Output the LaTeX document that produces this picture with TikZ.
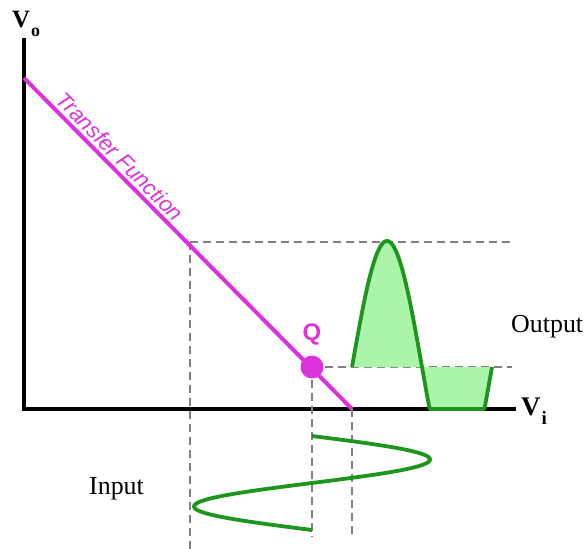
\documentclass[tikz,border=0pt]{standalone}
\usepackage{fontspec}
\setmainfont{Liberation Serif}
\setsansfont{Liberation Sans}
\usepackage{xcolor}
\usepackage{tikz}

\definecolor{tfmag}{RGB}{220,50,220}
\definecolor{wavegreen}{RGB}{30,150,30}
\definecolor{wavefill}{RGB}{170,245,170}
\definecolor{guidegray}{RGB}{128,128,128}

\begin{document}
\begin{tikzpicture}[
  x=1bp, y=-1bp,
  every node/.style={inner sep=0pt},
  axis/.style={line width=4bp, black},
  guide/.style={guidegray, line width=1.7bp, dash pattern=on 8bp off 5bp},
  tf/.style={tfmag, line width=4bp},
  wave/.style={wavegreen, line width=3.8bp, line join=round},
  lbl/.style={font=\fontsize{26}{26}\selectfont, anchor=base west},
]
  \useasboundingbox (0,0) rectangle (587,549);

  \coordinate (O)    at (24,409);
  \coordinate (Ytop) at (24,38);
  \coordinate (Xend) at (516,409);
  \coordinate (TFa)  at (24,78);
  \coordinate (TFb)  at (352,409);
  \coordinate (Hi)   at (190,242);
  \coordinate (HiR)  at (512,242);
  \coordinate (HiB)  at (190,549);
  \coordinate (Qpt)  at (312,367);
  \coordinate (QR)   at (512,367);
  \coordinate (QB)   at (312,537);
  \coordinate (TFB)  at (352,537);

  \draw[axis] (Ytop) -- (O) -- (Xend);

  \draw[guide] (Hi) -- (HiR);
  \draw[guide] (Hi) -- (HiB);
  \draw[guide] (Qpt) -- (QR);
  \draw[guide] (Qpt) -- (QB);
  \draw[guide] (TFb) -- (TFB);

  % output, clipped at the axis
  \fill[wavefill] (352,367) -- plot[domain=0:360, samples=145]
    ({352+\x/360*140}, {min(367-126*sin(\x),409)}) -- cycle;
  \draw[wave] plot[domain=0:360, samples=145]
    ({352+\x/360*140}, {min(367-126*sin(\x),409)});

  % input
  \draw[wave] plot[domain=0:360, samples=145]
    ({312+118*sin(\x)}, {436+\x/360*94});

  \draw[tf] (TFa) -- (TFb)
    node[pos=0.265, sloped, above=3bp, text=tfmag,
         font=\sffamily\itshape\fontsize{22}{22}\selectfont] (TFlbl) {Transfer Function};

  \node[circle, fill=tfmag, minimum size=23bp] (Q) at (Qpt) {};
  \node[text=tfmag, font=\sffamily\bfseries\fontsize{24}{24}\selectfont] (Qlbl) at (312,335) {Q};

  \node[lbl] (Out) at (511,332) {Output};
  \node[lbl] (In)  at (89,494)  {Input};
  \node[anchor=base west, font=\bfseries] (Vo) at (12,28)
    {\fontsize{25}{25}\selectfont V\hspace{1bp}\fontsize{18}{18}\selectfont\raisebox{-9bp}{o}};
  \node[anchor=base west, font=\bfseries] (Vi) at (521,415)
    {\fontsize{27}{27}\selectfont V\hspace{1bp}\fontsize{19}{19}\selectfont\raisebox{-9bp}{i}};
\end{tikzpicture}
\end{document}
